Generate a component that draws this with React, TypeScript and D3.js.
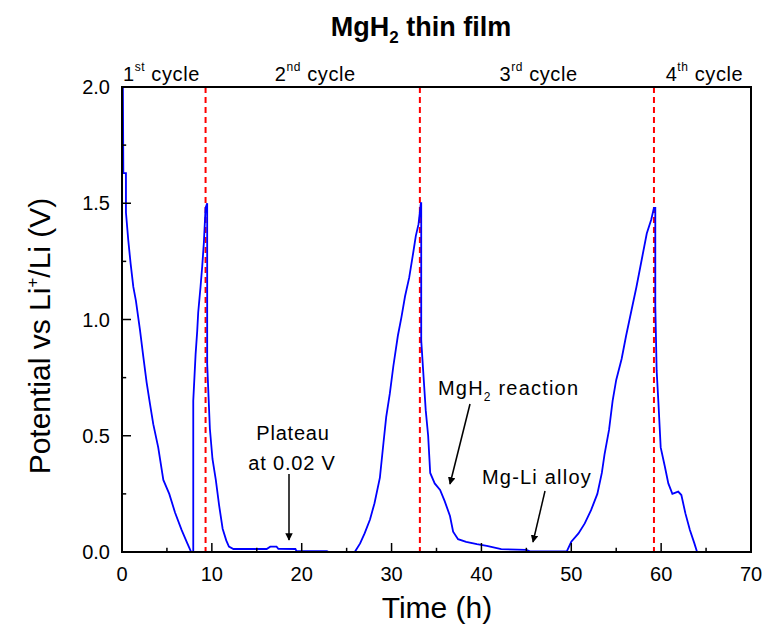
import React from "react";
import * as d3 from "d3";

const hours: number[] = [
  0.1, 0.15, 0.44, 0.44, 0.7, 0.96, 1.26, 1.55, 2.0, 2.37, 2.74, 3.1, 3.48, 4.03, 4.6, 5.26, 5.9, 6.63, 7.2, 7.7, 7.93,
  7.93, 8.19, 8.37, 8.48, 8.74, 8.93, 9.11, 9.3, 9.48,
  9.48, 9.78, 10.07, 10.44, 10.81, 11.2, 11.6, 11.9, 12.4, 16.1, 16.5, 17.2, 17.4, 19.3, 19.4, 22.8, 23.0, 25.9,
  26.5, 27.0, 27.6, 28.1, 28.7, 29.1, 29.4, 29.8, 30.2, 30.7, 31.1, 31.5, 31.96, 32.4, 32.7, 33.0, 33.26,
  33.3, 33.3, 33.6, 33.8, 34.07, 34.3, 34.8, 35.4, 35.9, 36.5, 36.85, 37.4, 38.3, 39.5, 40.6, 42.2, 45.0, 45.4, 49.5,
  50.0, 50.8, 51.5, 52.2, 52.9, 53.4, 53.7, 54.2, 54.6, 55.0, 55.6, 56.1, 56.7, 57.25, 57.9, 58.4, 58.9, 59.2,
  59.35, 59.35, 59.5, 59.7, 59.95, 60.4, 60.8, 61.25, 61.9, 62.25, 62.7, 63.2, 63.7, 64.0,
];
const volts: number[] = [
  2.0, 1.63, 1.63, 1.46, 1.34, 1.24, 1.14, 1.08, 0.955, 0.84, 0.73, 0.64, 0.55, 0.45, 0.31, 0.25, 0.17, 0.095, 0.044, 0.0, 0.0,
  0.65, 0.85, 0.95, 1.03, 1.14, 1.23, 1.33, 1.48, 1.5,
  0.81, 0.53, 0.4, 0.31, 0.2, 0.1, 0.05, 0.023, 0.013, 0.013, 0.023, 0.023, 0.014, 0.013, 0.005, 0.004, 0.0, 0.0,
  0.037, 0.08, 0.14, 0.21, 0.32, 0.47, 0.58, 0.68, 0.8, 0.93, 1.01, 1.1, 1.18, 1.285, 1.36, 1.41, 1.5,
  1.5, 0.91, 0.73, 0.61, 0.5, 0.34, 0.295, 0.267, 0.22, 0.155, 0.087, 0.055, 0.044, 0.034, 0.026, 0.012, 0.009, 0.003, 0.003,
  0.044, 0.08, 0.123, 0.18, 0.25, 0.34, 0.42, 0.525, 0.65, 0.74, 0.83, 0.93, 1.04, 1.14, 1.27, 1.37, 1.43, 1.48,
  1.48, 1.06, 0.78, 0.64, 0.45, 0.37, 0.295, 0.25, 0.26, 0.245, 0.166, 0.095, 0.037, 0.0,
];

const cycleEnds: number[] = [9.3, 33.15, 59.2];
const xTicks: number[] = [0, 10, 20, 30, 40, 50, 60, 70];
const xMinorTicks: number[] = [5, 15, 25, 35, 45, 55, 65];
const yTicks: number[] = [0, 0.5, 1.0, 1.5, 2.0];
const yMinorTicks: number[] = [0.25, 0.75, 1.25, 1.75];

const cycleLabels = [
  { num: "1", sup: "st", x: 0.1 },
  { num: "2", sup: "nd", x: 17 },
  { num: "3", sup: "rd", x: 42 },
  { num: "4", sup: "th", x: 60.5 },
];

const W = 763;
const H = 632;
const left = 122;
const right = 751;
const top = 87;
const bottom = 552;

export default function App() {
  const x = d3.scaleLinear().domain([0, 70]).range([left, right]);
  const y = d3.scaleLinear().domain([0, 2]).range([bottom, top]);
  const pts: [number, number][] = hours.map((h, i) => [h, volts[i]]);
  const line = d3
    .line<[number, number]>()
    .x((d) => x(d[0]))
    .y((d) => y(d[1]));
  const font = "'Liberation Sans', Arial, sans-serif";
  const tickLen = 6;

  const arrow = (x1: number, y1: number, x2: number, y2: number) => (
    <line x1={x1} y1={y1} x2={x2} y2={y2} stroke="#000" strokeWidth={1.5} markerEnd="url(#ah)" />
  );

  return (
    <svg
      width={W}
      height={H}
      style={{ position: "fixed", left: 0, top: 0, background: "#fff" }}
      fontFamily={font}
    >
      <defs>
        <marker id="ah" viewBox="0 0 10 10" refX="9" refY="5" markerWidth="5" markerHeight="5" orient="auto">
          <path d="M0,0 L10,5 L0,10 z" fill="#000" />
        </marker>
        <clipPath id="clip">
          <rect x={left} y={top} width={right - left} height={bottom - top + 1} />
        </clipPath>
      </defs>

      {/* title */}
      <text x={421} y={36} textAnchor="middle" fontSize={27} fontWeight="bold">
        MgH<tspan fontSize={17} dy={7}>2</tspan>
        <tspan dy={-7}> thin film</tspan>
      </text>

      {/* cycle labels */}
      {cycleLabels.map((c, i) => (
        <text key={i} x={x(c.x)} y={81} fontSize={20} letterSpacing={0.6}>
          {c.num}
          <tspan fontSize={12} dy={-10}>{c.sup}</tspan>
          <tspan dy={10}> cycle</tspan>
        </text>
      ))}

      {/* dashed cycle separators */}
      {cycleEnds.map((c, i) => (
        <line key={i} x1={x(c)} x2={x(c)} y1={top} y2={bottom} stroke="#ff0000" strokeWidth={2} strokeDasharray="6,4" />
      ))}

      {/* data */}
      <path d={line(pts) || ""} fill="none" stroke="#0000ff" strokeWidth={1.8} clipPath="url(#clip)" />

      {/* frame */}
      <rect x={left} y={top} width={right - left} height={bottom - top} fill="none" stroke="#000" strokeWidth={2} />

      {/* x ticks */}
      {xTicks.map((t) => (
        <g key={"x" + t}>
          <line x1={x(t)} x2={x(t)} y1={bottom} y2={bottom - tickLen * 1.5} stroke="#000" strokeWidth={1.5} />
          <text x={x(t)} y={bottom + 29} textAnchor="middle" fontSize={20}>{t}</text>
        </g>
      ))}
      {xMinorTicks.map((t) => (
        <line key={"xm" + t} x1={x(t)} x2={x(t)} y1={bottom} y2={bottom - tickLen * 0.7} stroke="#000" strokeWidth={1.5} />
      ))}

      {/* y ticks */}
      {yTicks.map((t) => (
        <g key={"y" + t}>
          <line x1={left} x2={left + tickLen * 1.5} y1={y(t)} y2={y(t)} stroke="#000" strokeWidth={1.5} />
          <text x={110} y={y(t) + 7} textAnchor="end" fontSize={20}>{t.toFixed(1)}</text>
        </g>
      ))}
      {yMinorTicks.map((t) => (
        <line key={"ym" + t} x1={left} x2={left + tickLen * 0.7} y1={y(t)} y2={y(t)} stroke="#000" strokeWidth={1.5} />
      ))}

      {/* axis titles */}
      <text x={437} y={618} textAnchor="middle" fontSize={30}>Time (h)</text>
      <text transform="translate(50,336) rotate(-90)" textAnchor="middle" fontSize={30}>
        Potential vs Li<tspan fontSize={17} dy={-12}>+</tspan>
        <tspan dy={12}>/Li (V)</tspan>
      </text>

      {/* annotations */}
      <text x={293} y={440} textAnchor="middle" fontSize={20} letterSpacing={0.8}>Plateau</text>
      <text x={292} y={470} textAnchor="middle" fontSize={20} letterSpacing={0.8}>at 0.02 V</text>
      {arrow(289, 474, 289, 540)}

      <text x={438} y={395} fontSize={20} letterSpacing={1.2}>
        MgH<tspan fontSize={12} dy={6}>2</tspan>
        <tspan dy={-6}> reaction</tspan>
      </text>
      {arrow(470, 404, 450, 484)}

      <text x={482} y={484} fontSize={20} letterSpacing={1.2}>Mg-Li alloy</text>
      {arrow(545, 491, 533, 542)}
    </svg>
  );
}
